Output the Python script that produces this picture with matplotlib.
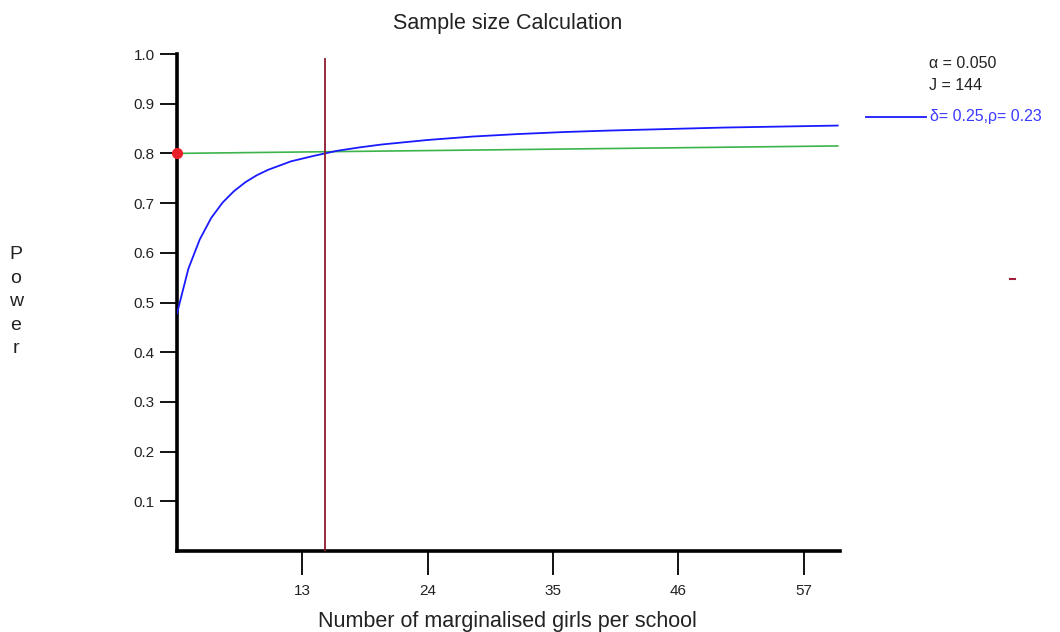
import matplotlib
matplotlib.use("Agg")
import matplotlib.pyplot as plt
from matplotlib.lines import Line2D

plt.rcParams['font.family'] = ['Liberation Sans', 'DejaVu Sans']

# Power curve: cluster size per school vs. statistical power
cluster_size = [2, 3, 4, 5, 6, 7, 8, 9, 10, 12, 14, 15, 16, 18, 20, 24, 28,
                32, 36, 40, 45, 50, 55, 60]
power = [0.478, 0.568, 0.627, 0.670, 0.701, 0.724, 0.742, 0.756, 0.767,
         0.784, 0.795, 0.800, 0.805, 0.812, 0.818, 0.827, 0.834, 0.839,
         0.843, 0.846, 0.849, 0.852, 0.854, 0.856]

# Target power reference line
target_x = [2, 60]
target_power = [0.800, 0.815]

# Chosen cluster size and the starting target point
chosen_n = 15
target_point = (2, 0.80)

x_ticks = [13, 24, 35, 46, 57]
y_ticks = [0.1, 0.2, 0.3, 0.4, 0.5, 0.6, 0.7, 0.8, 0.9, 1.0]
y_tick_labels = ["0.1", "0.2", "0.3", "0.4", "0.5", "0.6", "0.7", "0.8", "0.9", "1.0"]

alpha_text = "α = 0.050"
j_text = "J = 144"
series_label = "δ= 0.25,ρ= 0.23"

fig = plt.figure(figsize=(10.6, 6.32), dpi=100)
ax = fig.add_axes([177 / 1060, 1 - 551 / 632, (840 - 177) / 1060, (551 - 54) / 632])

ax.plot(target_x, target_power, color="#3cb44b", lw=1.2, zorder=2)
ax.plot(cluster_size, power, color="#1a1aff", lw=1.3, zorder=3)
ax.plot([chosen_n, chosen_n], [0, 0.99], color="#8b1a2e", lw=1.3, zorder=4)
ax.plot([target_point[0]], [target_point[1]], "o", color="#e8202a",
        ms=7, zorder=5, clip_on=False)

ax.set_xlim(2, 60.2)
ax.set_ylim(0, 1.0)
ax.set_xticks(x_ticks)
ax.set_xticklabels([str(t) for t in x_ticks])
ax.set_yticks(y_ticks)
ax.set_yticklabels(y_tick_labels)

for side in ("top", "right"):
    ax.spines[side].set_visible(False)
for side in ("left", "bottom"):
    ax.spines[side].set_linewidth(2.6)
    ax.spines[side].set_color("black")

ax.tick_params(axis="y", direction="out", length=12, width=1.3, pad=4,
               labelsize=11, colors="black")
ax.tick_params(axis="x", direction="out", length=17, width=1.3, pad=7,
               labelsize=11, colors="black")
for lbl in ax.get_xticklabels() + ax.get_yticklabels():
    lbl.set_color("#222222")

fig.text(508 / 1060, 1 - 24 / 632, "Sample size Calculation", ha="center",
         va="center", fontsize=15.5, color="#222222")
fig.text(507 / 1060, 1 - 621 / 632, "Number of marginalised girls per school",
         ha="center", va="center", fontsize=15.5, color="#222222")

for i, ch in enumerate("Power"):
    fig.text(16 / 1060, 1 - (255 + i * 23.5) / 632, ch, ha="center",
             va="center", fontsize=14, color="#222222")

fig.text(929 / 1060, 1 - 64 / 632, alpha_text, ha="left", va="center",
         fontsize=11.5, color="#222222")
fig.text(929 / 1060, 1 - 85 / 632, j_text, ha="left", va="center",
         fontsize=11.5, color="#222222")
fig.add_artist(Line2D([866 / 1060, 926 / 1060], [1 - 117 / 632, 1 - 117 / 632],
                      color="#1a1aff", lw=1.3, transform=fig.transFigure))
fig.text(930 / 1060, 1 - 117 / 632, series_label, ha="left", va="center",
         fontsize=11.5, color="#3a3aff")
fig.add_artist(Line2D([1010 / 1060, 1015 / 1060], [1 - 279 / 632, 1 - 279 / 632],
                      color="#a0203a", lw=1.5, transform=fig.transFigure))

fig.savefig("out.png", dpi=100, facecolor="white")
